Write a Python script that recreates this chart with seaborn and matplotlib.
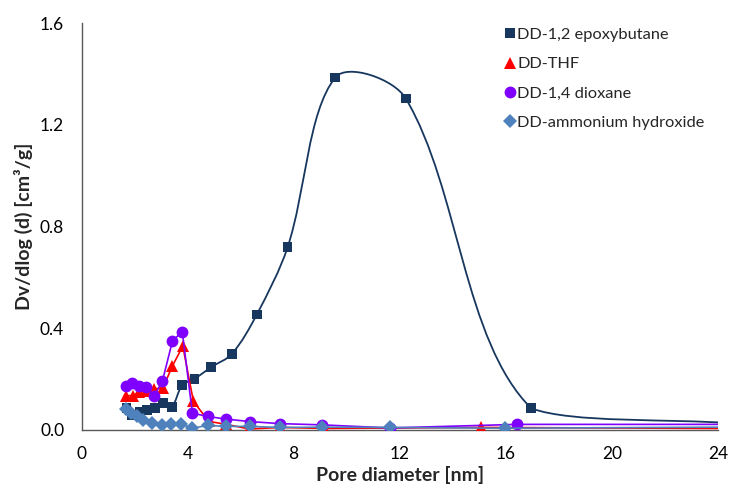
"""
Pore size distribution (BJH) of the DD samples
"""

import numpy as np
import pandas as pd
import seaborn as sns
import matplotlib.pyplot as plt
from matplotlib.path import Path
from matplotlib.patches import PathPatch
from matplotlib.lines import Line2D

sns.set_style("white")
plt.rcParams["font.family"] = ["Lato", "DejaVu Sans"]


# ====================================================================================================================
# Data
# ====================================================================================================================

epoxy_d = [1.70, 1.89, 2.21, 2.48, 2.77, 3.06, 3.40, 3.80, 4.26, 4.89, 5.67, 6.61, 7.77, 9.57, 12.23, 16.96, 24.6]
epoxy_v = [0.085, 0.058, 0.071, 0.078, 0.087, 0.107, 0.091, 0.176, 0.201, 0.247, 0.299, 0.454, 0.718, 1.386, 1.303, 0.085, 0.026]

thf_d = [1.67, 1.95, 2.18, 2.45, 2.75, 3.07, 3.42, 3.82, 4.22, 4.80, 5.45, 6.33, 7.50, 9.15, 15.08, 26.0]
thf_v = [0.135, 0.135, 0.150, 0.155, 0.162, 0.165, 0.250, 0.330, 0.112, 0.034, 0.022, 0.004, 0.010, 0.006, 0.010, 0.005]

diox_d = [1.68, 1.89, 2.18, 2.42, 2.74, 3.05, 3.43, 3.80, 4.18, 4.77, 5.44, 6.35, 7.49, 9.08, 11.62, 16.42, 26.0]
diox_v = [0.174, 0.184, 0.174, 0.168, 0.134, 0.192, 0.350, 0.387, 0.066, 0.053, 0.043, 0.033, 0.025, 0.020, 0.008, 0.022, 0.022]

amm_d = [1.67, 1.87, 2.11, 2.33, 2.65, 3.03, 3.38, 3.74, 4.18, 4.77, 5.44, 6.35, 7.49, 9.08, 11.62, 15.98, 26.0]
amm_v = [0.082, 0.068, 0.053, 0.040, 0.028, 0.018, 0.024, 0.024, 0.007, 0.018, 0.014, 0.014, 0.010, 0.011, 0.010, 0.007, 0.012]

labels = ["DD-1,2 epoxybutane", "DD-THF", "DD-1,4 dioxane", "DD-ammonium hydroxide"]
colors = ["#17375E", "#FF0000", "#7F00FF", "#4F81BD"]
markers = ["s", "^", "o", "D"]
msizes = [7, 8, 8.5, 6.8]

x_ticks = [0, 4, 8, 12, 16, 20, 24]
y_ticks = [0.0, 0.4, 0.8, 1.2, 1.6]


# ====================================================================================================================
# Excel-like smoothed line (bezier through the points, built in screen space)
# ====================================================================================================================


def smooth_path(ax, xs, ys):
    pts = ax.transData.transform(np.column_stack([xs, ys]))
    n = len(pts)
    verts = [pts[0]]
    codes = [Path.MOVETO]
    for i in range(n - 1):
        p0 = pts[max(i - 1, 0)]
        p1, p2 = pts[i], pts[i + 1]
        p3 = pts[min(i + 2, n - 1)]
        d01 = np.hypot(*(p1 - p0))
        d12 = np.hypot(*(p2 - p1))
        d23 = np.hypot(*(p3 - p2))
        c1 = p1 + (p2 - p0) * d12 / (d01 + d12) / 3
        c2 = p2 - (p3 - p1) * d12 / (d12 + d23) / 3
        # don't let the curve sag below the lower end of the segment
        floor = min(p1[1], p2[1])
        c1[1] = max(c1[1], floor)
        c2[1] = max(c2[1], floor)
        verts += [c1, c2, p2]
        codes += [Path.CURVE4] * 3
    verts = ax.transData.inverted().transform(np.array(verts))
    return Path(verts, codes)


# ====================================================================================================================
# Plot
# ====================================================================================================================

fig = plt.figure(figsize=(7.31, 4.94), dpi=100)
ax = fig.add_axes([0.1115, 0.1296, 0.8707, 0.8238])
ax.set_xlim(0, 24)
ax.set_ylim(0, 1.6)

# smoothed epoxybutane curve + its markers
ax.add_patch(PathPatch(smooth_path(ax, epoxy_d, epoxy_v), facecolor="none",
                       edgecolor=colors[0], linewidth=1.3, zorder=2))
sns.scatterplot(x=epoxy_d, y=epoxy_v, marker="s", s=msizes[0] ** 2, color=colors[0],
                edgecolor="none", zorder=3, ax=ax)

# straight-line series
others = [(thf_d, thf_v), (diox_d, diox_v), (amm_d, amm_v)]
for k, (d, v) in enumerate(others, start=1):
    df = pd.DataFrame({"d": d, "v": v})
    sns.lineplot(data=df, x="d", y="v", color=colors[k], marker=markers[k], markersize=msizes[k],
                 markeredgewidth=0, linewidth=1.2, estimator=None, zorder=3 + k, ax=ax)

ax.set_xlim(0, 24)
ax.set_ylim(0, 1.6)
ax.set_xticks(x_ticks)
ax.set_yticks(y_ticks)
ax.set_yticklabels([f"{t:.1f}" for t in y_ticks])
ax.tick_params(axis="both", direction="out", length=5, width=1, color="#868686",
               labelsize=12.5, labelcolor="black")
ax.tick_params(axis="x", pad=6.5)
ax.tick_params(axis="y", pad=7.5)
for side in ["top", "right"]:
    ax.spines[side].set_visible(False)
for side in ["left", "bottom"]:
    ax.spines[side].set_color("#595959")
    ax.spines[side].set_linewidth(1)

ax.set_xlabel("Pore diameter [nm]", fontsize=14, fontweight="bold", labelpad=3)
ax.set_ylabel("Dv/dlog (d) [cm³/g]", fontsize=14, fontweight="bold", labelpad=5)

handles = [Line2D([], [], linestyle="none", marker=m, markersize=s, color=c, markeredgewidth=0)
           for m, s, c in zip(markers, msizes, colors)]
ax.legend(handles, labels, loc="upper left", bbox_to_anchor=(0.691, 0.944),
          bbox_transform=fig.transFigure, frameon=False, fontsize=11.8,
          handlelength=0.6, handletextpad=0.15, labelspacing=0.9, borderpad=0, borderaxespad=0)

fig.savefig("out.png", dpi=100)
